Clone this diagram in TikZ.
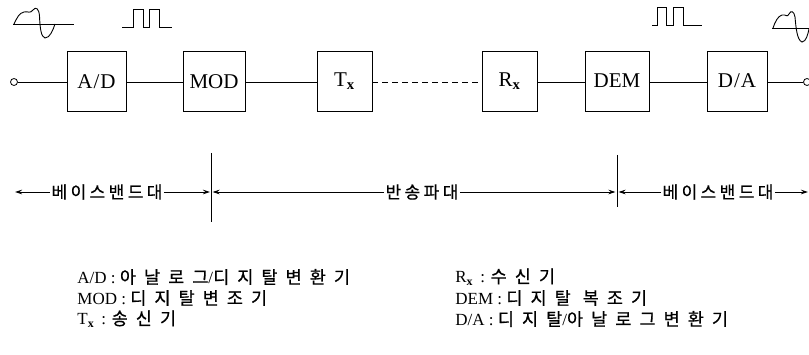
\documentclass[tikz,border=0pt]{standalone}
\usepackage{fontspec}
\setmainfont{Liberation Serif}
\newfontfamily\krb[LetterSpace=20,FakeBold=0.6]{Noto Sans CJK KR}
\newfontfamily\krl[LetterSpace=46,FakeBold=0.6]{Noto Sans CJK KR}
\usetikzlibrary{arrows.meta}
\newcommand\subx{\textsubscript{\bfseries x}}
\newcommand\K[1]{{\krl\fontsize{17.5}{18}\selectfont #1}}
\begin{document}
\begin{tikzpicture}[x=1pt,y=-1pt,line width=0.8pt,
  blk/.style={draw,minimum height=60pt,inner sep=0pt,font=\fontsize{21}{21}\selectfont},
  term/.style={draw,circle,minimum size=7pt,inner sep=0pt,fill=white},
  band/.style={font=\krb\fontsize{17}{17}\selectfont,inner sep=1pt},
  arr/.style={-{Stealth[length=7pt,width=4.5pt]}},
  leg/.style={anchor=west,font=\fontsize{17}{17}\selectfont,inner sep=0pt},
  wave/.style={line width=0.9pt}]
\useasboundingbox (0,0) rectangle (809,355);
% blocks
\node[blk,minimum width=59pt] (ad)  at (96.5,81.5) {A\kern1pt/\kern1pt D};
\node[blk,minimum width=62pt] (mod) at (214,81.5) {MOD};
\node[blk,minimum width=55pt] (tx)  at (344.5,81) {T\subx};
\node[blk,minimum width=55pt] (rx)  at (509.5,81) {R\subx};
\node[blk,minimum width=64pt] (dem) at (617,81) {DEM};
\node[blk,minimum width=60pt] (da)  at (737,81) {D\kern1pt/\kern1pt A};
\node[term] (in) at (14,82) {};
\node[term] (out) at (807,82) {};
% connectors
\draw (in) -- (in -| ad.west);
\draw (ad.east |- in) -- (mod.west |- in);
\draw (mod.east |- in) -- (tx.west |- in);
\draw[dashed,dash pattern=on 6pt off 4pt] (tx.east |- in) -- (rx.west |- in);
\draw (rx.east |- in) -- (dem.west |- in);
\draw (dem.east |- in) -- (da.west |- in);
\draw (da.east |- out) -- (out);
% waveforms
\draw[wave] (13,24) -- (74,24);
\draw[wave] (14,24) .. controls (17,18) and (19,13) .. (24,12)
  .. controls (28,11) and (30,14) .. (33,10)
  .. controls (36,6) and (39,9) .. (39.5,16)
  .. controls (40,28) and (41,37) .. (45,38)
  .. controls (50,38) and (53,30) .. (55,24);
\draw[wave] (122,27) -- (133,27) -- (133,9) -- (143,9) -- (143,27) -- (149,27) -- (149,9) -- (159,9) -- (159,27) -- (172,27);
\draw[wave] (652,25) -- (657,25) -- (657,7) -- (666,7) -- (666,25) -- (673,25) -- (673,7) -- (683,7) -- (683,25) -- (702,25);
\draw[wave] (772,28) -- (809,28);
\draw[wave] (773,28) .. controls (775,22) and (778,16) .. (782,15)
  .. controls (786,14) and (787,18) .. (789,14)
  .. controls (791,10) and (794,11) .. (795,17)
  .. controls (796,28) and (797,40) .. (802,42)
  .. controls (806,42) and (808,34) .. (809,29);
% band section
\coordinate (d1t) at (211,153); \coordinate (d1b) at (211,222);
\coordinate (d2t) at (617,155); \coordinate (d2b) at (617,207);
\draw (d1t) -- (d1b);
\draw (d2t) -- (d2b);
\node[band] (bb1) at (107,192) {베이스밴드대};
\node[band] (mid) at (422,192) {반송파대};
\node[band] (bb2) at (718,192) {베이스밴드대};
\coordinate (l0) at (15,192);
\coordinate (l1) at (210,192);
\coordinate (l2) at (212.5,192);
\coordinate (l3) at (615.5,192);
\coordinate (l4) at (618.5,192);
\coordinate (l5) at (808,192);
\draw[arr] (bb1) -- (l0);
\draw[arr] (bb1) -- (l1);
\draw[arr] (mid) -- (l2);
\draw[arr] (mid) -- (l3);
\draw[arr] (bb2) -- (l4);
\draw[arr] (bb2) -- (l5);
% legend
\node[leg] (g1) at (77,277) {A/D : \K{아날로그}/\K{디지탈변환기}};
\node[leg] (g2) at (77,298) {MOD : \K{디지탈변조기}};
\node[leg] (g3) at (77,319) {T\subx\ \,: \K{송신기}};
\node[leg] (g4) at (455,277) {R\subx\ \,: \K{수신기}};
\node[leg] (g5) at (455,298) {DEM : \K{디지탈 복조기}};
\node[leg] (g6) at (455,319) {D/A : \K{디지탈}/\K{아날로그변환기}};
\end{tikzpicture}
\end{document}
